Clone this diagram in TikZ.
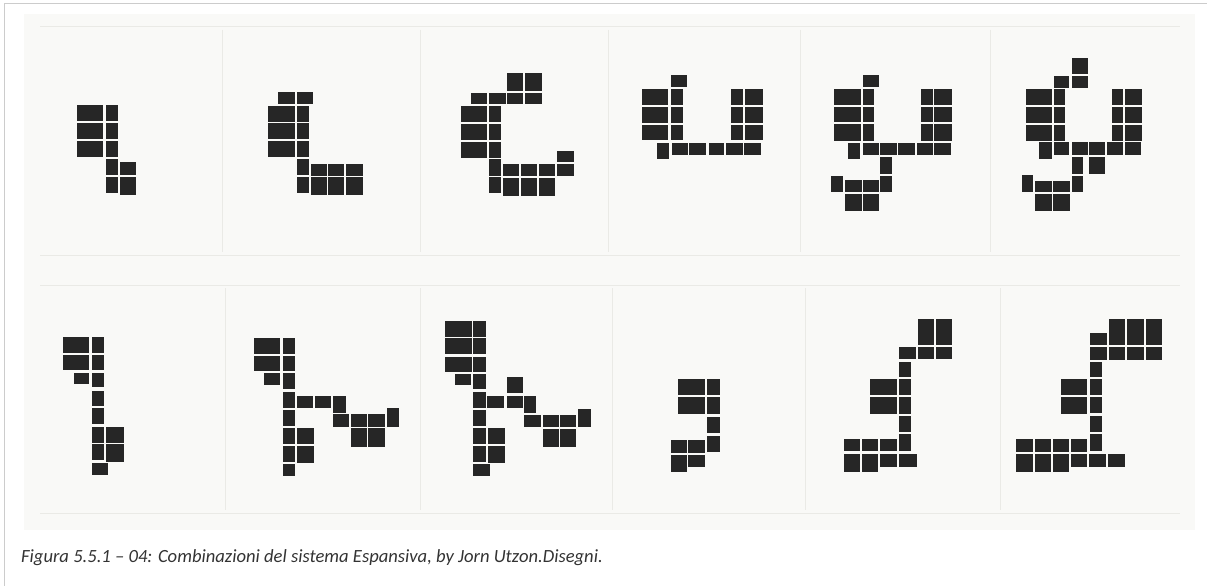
\documentclass[tikz,border=0pt]{standalone}
\usepackage{fontspec}
\setmainfont{Carlito}
\definecolor{scanwhite}{RGB}{249,249,247}
\definecolor{sheetline}{RGB}{234,234,230}
\definecolor{framegrey}{RGB}{204,204,204}
\definecolor{blockgrey}{RGB}{38,38,38}
\usetikzlibrary{positioning}

\begin{document}
\begin{tikzpicture}[x=1pt, y=-1pt,
  blk/.style={fill=blockgrey},
  sheet/.style={draw=sheetline, line width=1pt}]
  \useasboundingbox (0,0) rectangle (1207,586);

  % Frame and scanned sheet
  \draw[framegrey, line width=1pt] (1207,4) -- (4,4) -- (4,586);
  \fill[scanwhite] (24,14) rectangle (1195,530);
  \draw[sheet] (40,27) -- (1180,27) (40,255) -- (1180,255);
  \draw[sheet] (40,285) -- (1180,285) (40,513) -- (1180,513);
  \foreach \x in {222,420,608,800,990}
    \draw[sheet] (\x,30) -- (\x,252);
  \foreach \x in {225,420,612,805,1000}
    \draw[sheet] (\x,288) -- (\x,510);

  % Top row
  \foreach \x/\y/\w/\h in {77/105/26/16, 77/123/26/16, 77/141/26/16,
      106/105/12/16, 106/123/12/16, 106/141/12/16, 106/159/12/16, 106/177/12/16,
      120/162/16/13, 120/177/16/18}
    \fill[blk] (\x,\y) rectangle ++(\w,\h);
  \foreach \x/\y/\w/\h in {278/92/17/12, 297/92/16/12,
      268/106/27/16, 268/123/27/16, 268/141/27/16,
      297/106/12/16, 297/123/12/16, 297/141/12/16, 297/159/12/16, 297/177/12/16,
      311/164/16/12, 328/164/16/12, 346/164/17/12,
      311/177/16/18, 328/177/16/18, 346/177/17/18}
    \fill[blk] (\x,\y) rectangle ++(\w,\h);
  \foreach \x/\y/\w/\h in {507/73/16/18, 525/73/17/18,
      471/93/16/11, 489/93/17/11, 507/93/16/11, 525/93/17/11,
      461/106/26/16, 461/124/26/16, 461/142/26/16,
      489/106/12/16, 489/124/12/16, 489/142/12/16, 489/159/12/17, 489/177/12/16,
      503/164/16/12, 521/164/16/12, 539/164/16/12, 557/164/17/12, 557/151/17/11,
      503/178/16/18, 521/178/16/18, 539/178/16/18}
    \fill[blk] (\x,\y) rectangle ++(\w,\h);
  \foreach \x/\y/\w/\h in {671/75/16/12,
      642/89/26/16, 642/107/26/16, 642/125/26/15,
      671/89/12/16, 671/107/12/16, 671/125/12/15,
      731/89/12/16, 731/107/12/16, 731/125/12/15,
      745/89/18/16, 745/107/18/16, 745/125/18/15,
      657/143/12/16, 672/143/16/12, 689/143/17/12, 709/143/15/12,
      726/143/17/12, 744/143/17/12}
    \fill[blk] (\x,\y) rectangle ++(\w,\h);
  \foreach \x/\y/\w/\h in {863/75/16/12,
      834/89/27/16, 834/107/27/15, 834/124/27/17,
      863/89/11/16, 863/107/11/15, 863/124/11/17,
      921/89/12/16, 921/107/12/15, 921/124/12/17,
      934/89/18/16, 934/107/18/15, 934/124/18/17,
      848/143/12/16, 863/143/16/12, 880/143/17/12, 898/143/17/12,
      917/143/16/12, 934/143/17/12,
      880/157/12/17, 880/176/12/16, 831/176/12/16,
      845/180/17/12, 863/180/16/12, 845/194/17/17, 863/194/16/17}
    \fill[blk] (\x,\y) rectangle ++(\w,\h);
  \foreach \x/\y/\w/\h in {1072/58/16/16, 1072/76/16/12, 1054/76/15/12,
      1026/89/26/16, 1026/107/26/16, 1026/125/26/16,
      1054/89/11/16, 1054/107/11/16, 1054/125/11/16,
      1112/89/11/16, 1112/107/11/16, 1112/125/11/16,
      1125/89/17/16, 1125/107/17/16, 1125/125/17/16,
      1039/142/13/17, 1054/142/15/13, 1072/142/16/13, 1089/142/16/13,
      1107/142/16/13, 1125/142/16/13,
      1072/157/11/17, 1072/176/11/16, 1089/157/16/17, 1022/175/11/17,
      1035/181/17/11, 1053/181/17/11, 1035/194/17/17, 1053/194/17/17}
    \fill[blk] (\x,\y) rectangle ++(\w,\h);

  % Bottom row
  \foreach \x/\y/\w/\h in {63/337/26/16, 63/355/26/15, 74/373/15/11,
      92/337/12/16, 92/355/12/15, 92/373/12/14, 92/391/12/15,
      92/408/12/16, 92/427/12/16, 92/444/12/16, 92/463/16/12,
      106/427/18/16, 106/444/18/18}
    \fill[blk] (\x,\y) rectangle ++(\w,\h);
  \foreach \x/\y/\w/\h in {254/338/26/16, 254/356/26/15, 264/373/16/12,
      283/338/12/16, 283/356/12/15, 283/373/12/16, 283/392/12/16,
      283/410/12/16, 283/428/12/16, 283/446/12/16, 283/464/12/12,
      297/396/16/12, 315/396/16/12, 333/396/13/17,
      333/414/16/13, 351/414/16/13, 368/414/17/13, 387/408/12/19,
      351/428/16/19, 368/428/17/19, 297/428/17/16, 297/446/17/17}
    \fill[blk] (\x,\y) rectangle ++(\w,\h);
  \foreach \x/\y/\w/\h in {445/321/27/16, 445/338/27/16, 445/357/27/15,
      455/374/16/11,
      473/321/13/16, 473/338/13/16, 473/357/13/15, 473/374/13/15,
      473/392/13/16, 473/410/13/16, 473/428/13/16, 473/446/13/16, 473/464/17/12,
      507/377/16/16, 487/396/17/12, 507/396/16/12, 524/396/12/17,
      524/415/17/12, 543/415/16/12, 560/415/16/12, 578/409/13/18,
      543/429/16/18, 560/429/16/18, 488/428/17/16, 488/446/17/17}
    \fill[blk] (\x,\y) rectangle ++(\w,\h);
  \foreach \x/\y/\w/\h in {678/379/27/16, 678/397/27/17,
      707/379/13/16, 707/397/13/17, 707/417/13/16, 707/436/13/16,
      671/440/16/13, 688/440/17/13, 671/455/16/17, 688/455/17/12}
    \fill[blk] (\x,\y) rectangle ++(\w,\h);
  \foreach \x/\y/\w/\h in {918/319/16/26, 936/319/16/26,
      918/347/16/12, 936/347/16/12, 899/347/17/12,
      899/362/12/15, 899/379/12/16, 899/397/12/17, 899/416/12/16, 899/434/12/17,
      870/379/27/16, 870/397/27/17,
      844/439/16/12, 862/439/16/12, 880/439/17/12,
      844/454/16/18, 862/454/16/18, 880/454/17/13, 899/454/18/13}
    \fill[blk] (\x,\y) rectangle ++(\w,\h);
  \foreach \x/\y/\w/\h in {1109/319/16/26, 1127/319/17/26, 1146/319/16/26,
      1090/333/17/12,
      1090/347/17/13, 1109/347/16/13, 1127/347/17/13, 1146/347/16/13,
      1090/362/12/15, 1090/379/12/16, 1090/397/12/16, 1090/416/12/16, 1090/434/12/17,
      1061/379/26/16, 1061/397/26/17,
      1016/439/17/13, 1035/439/16/13, 1053/439/16/13, 1071/439/16/13,
      1016/454/17/18, 1035/454/16/18, 1053/454/16/18,
      1071/454/16/13, 1089/454/17/13, 1108/454/17/13}
    \fill[blk] (\x,\y) rectangle ++(\w,\h);

  % Caption
  \node (caption) [anchor=base west, inner sep=0pt, text=black!80,
    font=\fontsize{18.6}{22}\selectfont\itshape] at (21,562)
    {Figura 5.5.1 – 04: Combinazioni del sistema Espansiva, by Jorn Utzon.Disegni.};
\end{tikzpicture}
\end{document}
